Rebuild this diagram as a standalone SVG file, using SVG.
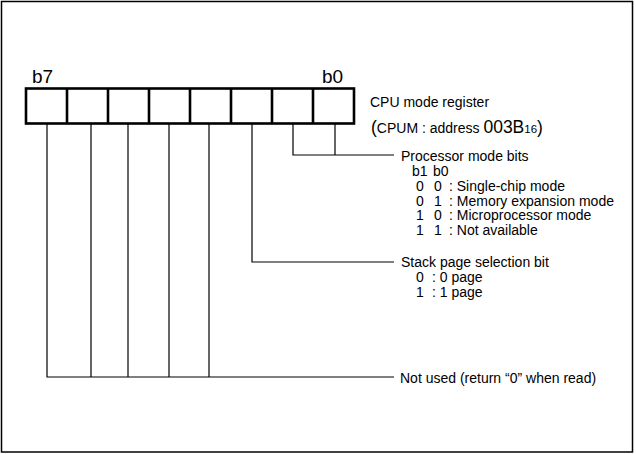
<svg xmlns="http://www.w3.org/2000/svg" width="636" height="454" viewBox="0 0 636 454">
<style>
text{font-family:"Liberation Sans",Arial,sans-serif;fill:#000}
.t{font-size:14px}
.big{font-size:19px}
.c{fill:none;stroke:#000;stroke-width:1.2}
.reg{fill:#fff;stroke:#000;stroke-width:2.6}
</style>
<rect x="1.5" y="1.5" width="631" height="450.5" fill="#fff" stroke="#000" stroke-width="1.5"/>
<g id="register">
<rect class="reg" x="26" y="88.5" width="328" height="35"/>
<path class="reg" d="M67 88.5V123.5M108 88.5V123.5M149 88.5V123.5M190 88.5V123.5M231 88.5V123.5M272 88.5V123.5M313 88.5V123.5"/>
<text class="big" x="32" y="83">b7</text>
<text class="big" x="322" y="83">b0</text>
<text class="t" x="370" y="107">CPU mode register</text>
<text x="371" y="133" class="t"><tspan font-size="17.5">(</tspan>CPUM : address <tspan font-size="17.5">003B</tspan><tspan font-size="11.5">16</tspan><tspan font-size="17.5">)</tspan></text>
</g>
<g id="connectors">
<path class="c" d="M293 124V155H394M335 124V155"/>
<path class="c" d="M252 124V262H394"/>
<path class="c" d="M47 124V377H394M91 124V377M128 124V377M169 124V377M209 124V377"/>
</g>
<g id="processor-mode">
<text class="t" x="401" y="161">Processor mode bits</text>
<text class="t" x="412" y="176">b1</text><text class="t" x="433" y="176">b0</text>
<text class="t" x="416" y="191">0</text><text class="t" x="434" y="191">0</text><text class="t" x="449" y="191">: Single-chip mode</text>
<text class="t" x="416" y="205.5">0</text><text class="t" x="434" y="205.5">1</text><text class="t" x="449" y="205.5">: Memory expansion mode</text>
<text class="t" x="416" y="220">1</text><text class="t" x="434" y="220">0</text><text class="t" x="449" y="220">: Microprocessor mode</text>
<text class="t" x="416" y="234.5">1</text><text class="t" x="434" y="234.5">1</text><text class="t" x="449" y="234.5">: Not available</text>
</g>
<g id="stack-page">
<text class="t" x="401" y="267">Stack page selection bit</text>
<text class="t" x="416" y="282">0</text><text class="t" x="432" y="282">: 0 page</text>
<text class="t" x="416" y="296.5">1</text><text class="t" x="432" y="296.5">: 1 page</text>
</g>
<g id="not-used">
<text class="t" x="400" y="383">Not used (return “0” when read)</text>
</g>
</svg>
